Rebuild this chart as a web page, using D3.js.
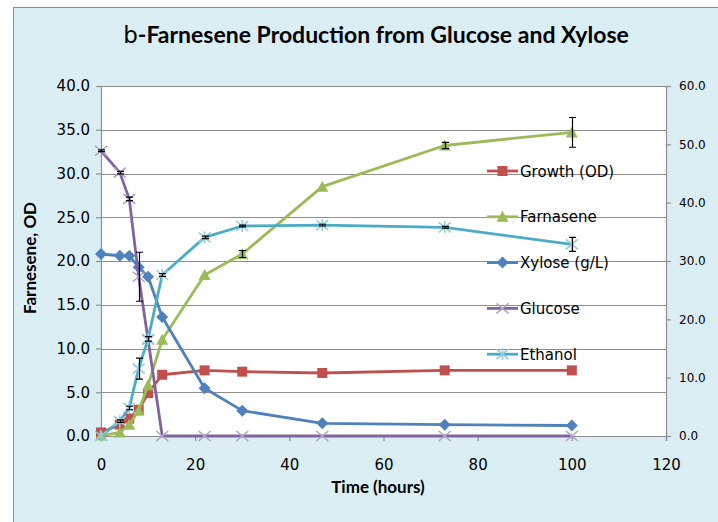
<!DOCTYPE html>
<meta charset="utf-8">
<style>
  body { margin: 0; background: #fff; }
  svg text { font-family: "DejaVu Sans", sans-serif; fill: #000; }
</style>
<script src="https://d3js.org/d3.v7.min.js"></script>
<body></body>
<script>
// values
var hours = [0, 4, 6, 8, 10, 13, 22, 30, 47, 73, 100];

var growth     = [0.4, 1.3, 2.0, 3.0, 4.9, 7.0, 7.5, 7.35, 7.2, 7.5, 7.5];
var farnasene  = [0.05, 0.4, 1.3, 2.9, 5.8, 11.0, 18.4, 20.8, 28.5, 33.2, 34.7];
var xylose     = [20.8, 20.6, 20.6, 19.3, 18.2, 13.6, 5.45, 2.9, 1.45, 1.3, 1.2];
var glucose    = [32.6, 30.1, 27.1, 18.2, 11.0, 0, 0, 0, 0, 0, 0];
var ethanol    = [0, 1.7, 3.2, 7.7, 11.1, 18.4, 22.7, 24.0, 24.1, 23.85, 21.9];

var growthErr    = [0, 0, 0, 0, 0, 0, 0, 0, 0, 0, 0];
var farnaseneErr = [0, 0, 0, 0, 0, 0, 0, 0.4, 0, 0.35, 1.7];
var xyloseErr    = [0, 0, 0, 0, 0, 0, 0, 0, 0, 0, 0];
var glucoseErr   = [0.1, 0.15, 0.2, 2.8, 0, 0, 0, 0, 0, 0, 0];
var ethanolErr   = [0, 0.15, 0.2, 1.2, 0.25, 0.15, 0.15, 0.1, 0.1, 0.1, 0.8];

var leftTicks  = [0, 5, 10, 15, 20, 25, 30, 35, 40];
var rightTicks = [0, 10, 20, 30, 40, 50, 60];
var xTicks     = [0, 20, 40, 60, 80, 100, 120];

var series = [
  { name: "Growth (OD)", values: growth,    err: growthErr,    color: "#C0504D", marker: "square" },
  { name: "Farnasene",   values: farnasene, err: farnaseneErr, color: "#9BBB59", marker: "triangle" },
  { name: "Xylose (g/L)", values: xylose,   err: xyloseErr,    color: "#4F81BD", marker: "diamond" },
  { name: "Glucose",     values: glucose,   err: glucoseErr,   color: "#8064A2", marker: "x" },
  { name: "Ethanol",     values: ethanol,   err: ethanolErr,   color: "#4BACC6", marker: "star" }
];

var width = 718, height = 522;
var plot = { left: 101, right: 666, top: 86, bottom: 436 };

var svg = d3.select("body").append("svg")
    .attr("width", width)
    .attr("height", height);

// chart area + plot area
svg.append("rect")
    .attr("x", 13.5).attr("y", 7.5)
    .attr("width", width).attr("height", height)
    .attr("fill", "#DBEEF4").attr("stroke", "#8C8C8C");
svg.append("rect")
    .attr("x", plot.left).attr("y", plot.top)
    .attr("width", plot.right - plot.left).attr("height", plot.bottom - plot.top)
    .attr("fill", "#fff");

var x = d3.scaleLinear().domain([0, 120]).range([plot.left, plot.right]);
var y = d3.scaleLinear().domain([0, 40]).range([plot.bottom, plot.top]);
var y2 = d3.scaleLinear().domain([0, 60]).range([plot.bottom, plot.top]);

// gridlines
svg.append("g").selectAll("line").data(leftTicks.slice(1)).enter().append("line")
    .attr("x1", plot.left).attr("x2", plot.right)
    .attr("y1", function(d) { return Math.round(y(d)) + 0.5; })
    .attr("y2", function(d) { return Math.round(y(d)) + 0.5; })
    .attr("stroke", "#8E8E8E").attr("stroke-width", 1.2);

// axes
var axisLeft = d3.axisLeft(y).tickValues(leftTicks).tickSize(5).tickPadding(6)
    .tickFormat(function(d) { return d3.format(".1f")(d) + " "; });
var gl = svg.append("g").attr("transform", "translate(" + plot.left + ",0)").call(axisLeft);
gl.selectAll("text").style("font-size", "15px");

var axisRight = d3.axisRight(y2).tickValues(rightTicks).tickSize(5).tickPadding(8)
    .tickFormat(function(d) { return d3.format(".1f")(d) + " "; });
var gr = svg.append("g").attr("transform", "translate(" + plot.right + ",0)").call(axisRight);
gr.selectAll("text").style("font-size", "12px");

var axisBottom = d3.axisBottom(x).tickValues(xTicks).tickSize(5).tickPadding(18)
    .tickFormat(function(d) { return d + " "; });
var gb = svg.append("g").attr("transform", "translate(0," + plot.bottom + ")").call(axisBottom);
gb.selectAll("text").style("font-size", "15px");

[gl, gr, gb].forEach(function(g) {
  g.selectAll(".domain, .tick line").attr("stroke", "#8E8E8E").attr("stroke-width", 1.2);
});

// markers
function marker(g, type, color, size) {
  var s = size || 5;
  if (type == "square") {
    g.append("rect").attr("x", -s).attr("y", -s).attr("width", 2 * s).attr("height", 2 * s)
      .attr("fill", color);
  } else if (type == "triangle") {
    g.append("path").attr("d", "M0," + (-s - 1) + "L" + (s + 1) + "," + s + "L" + (-s - 1) + "," + s + "Z")
      .attr("fill", color);
  } else if (type == "diamond") {
    g.append("path").attr("d", "M0," + (-s - 1) + "L" + (s + 1) + ",0L0," + (s + 1) + "L" + (-s - 1) + ",0Z")
      .attr("fill", color);
  } else if (type == "x" || type == "star") {
    var light = type == "x" ? "#B3A2C7" : "#93CDDD";
    g.append("path").attr("d", "M" + (-s - 1) + "," + (-s) + "L" + (s + 1) + "," + s +
        "M" + (-s - 1) + "," + s + "L" + (s + 1) + "," + (-s))
      .attr("stroke", light).attr("stroke-width", 1.6).attr("fill", "none");
    if (type == "star") {
      g.append("path").attr("d", "M0," + (-s - 1) + "V" + (s + 1))
        .attr("stroke", light).attr("stroke-width", 1.6);
    }
  }
}

var line = d3.line()
    .x(function(d) { return x(d[0]); })
    .y(function(d) { return y(d[1]); });

series.forEach(function(s) {
  var pts = hours.map(function(h, i) { return [h, s.values[i], s.err[i]]; });
  var g = svg.append("g");
  g.append("path").datum(pts).attr("d", line)
    .attr("fill", "none").attr("stroke", s.color).attr("stroke-width", 2.8)
    .attr("stroke-linejoin", "round");
  g.selectAll(".m").data(pts).enter().append("g")
    .attr("transform", function(d) { return "translate(" + x(d[0]) + "," + y(d[1]) + ")"; })
    .each(function() { marker(d3.select(this), s.marker, s.color); });
  // error bars
  var eb = g.selectAll(".e").data(pts.filter(function(d) { return d[2] > 0; })).enter().append("g");
  eb.append("path")
    .attr("d", function(d) {
      var cx = Math.round(x(d[0])) + 0.5, t = y(d[1] + d[2]), b = y(d[1] - d[2]);
      return "M" + cx + "," + t + "V" + b + "M" + (cx - 3.5) + "," + t + "H" + (cx + 3.5) +
        "M" + (cx - 3.5) + "," + b + "H" + (cx + 3.5);
    })
    .attr("stroke", "#000").attr("stroke-width", 1.2).attr("fill", "none");
});

// legend
var legend = svg.append("g");
series.forEach(function(s, i) {
  var ly = 171 + i * 45.8;
  var lg = legend.append("g").attr("transform", "translate(487," + ly + ")");
  lg.append("line").attr("x1", 0).attr("x2", 31).attr("stroke", s.color).attr("stroke-width", 2.8);
  var mg = lg.append("g").attr("transform", "translate(15.5,0)");
  marker(mg, s.marker, s.color);
  lg.append("text").attr("x", 33).attr("y", 5.5).style("font-size", "15px").text(s.name + " ");
});

// titles
var title = svg.append("text").attr("x", 376).attr("y", 43).attr("text-anchor", "middle")
    .style("font-family", "Lato, sans-serif").style("font-size", "23px").style("font-weight", "bold");
title.append("tspan").style("font-family", "DejaVu Sans, sans-serif").style("font-weight", "normal").text("b");
title.append("tspan").text("-Farnesene Production from Glucose and Xylose");

svg.append("text").attr("x", 378).attr("y", 493).attr("text-anchor", "middle")
    .style("font-family", "Lato, sans-serif").style("font-size", "17px").style("font-weight", "bold")
    .text("Time (hours)");

svg.append("text").attr("transform", "translate(36,258) rotate(-90)").attr("text-anchor", "middle")
    .style("font-family", "Lato, sans-serif").style("font-size", "17px").style("font-weight", "bold")
    .text("Farnesene, OD");
</script>
